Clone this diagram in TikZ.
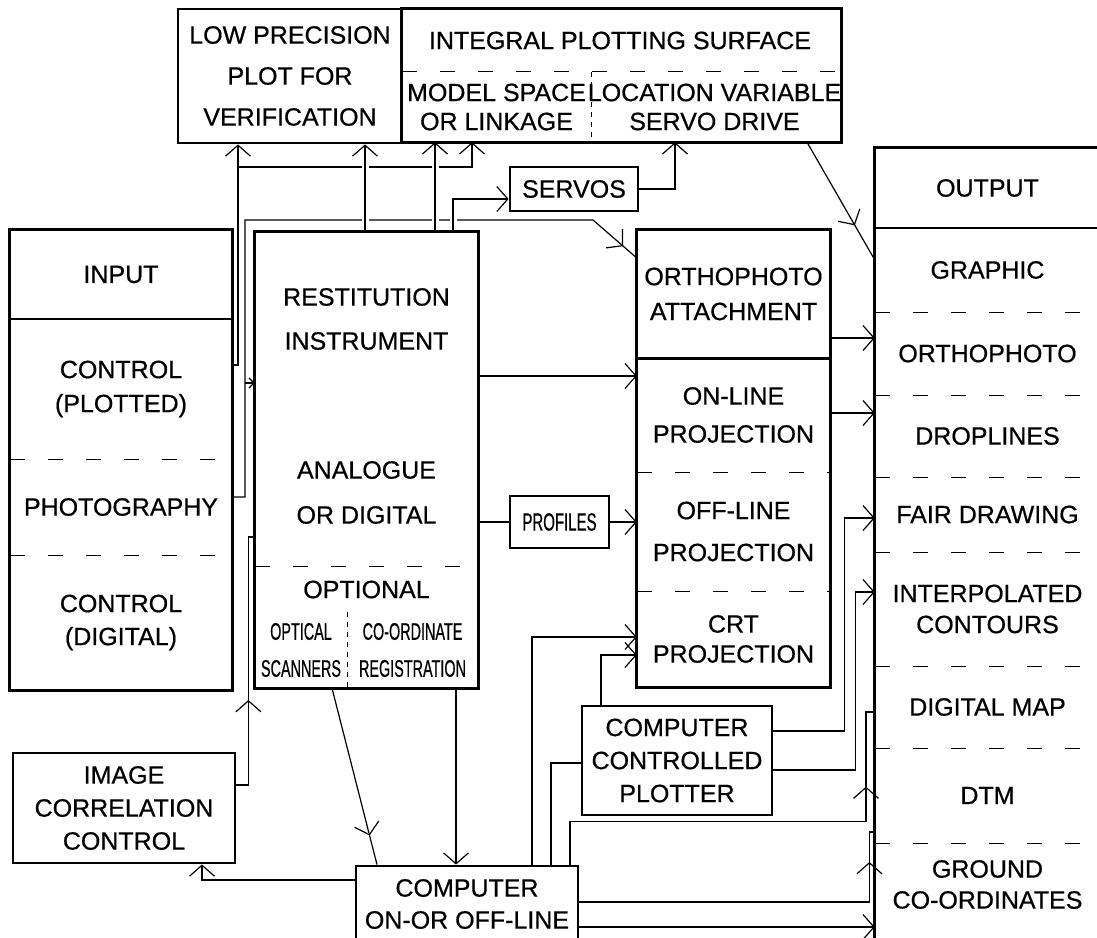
\documentclass[tikz,border=0pt]{standalone}
\usepackage{fontspec}
\setmainfont[FakeBold=0.6]{Liberation Sans}
\newfontfamily\narrowfont[FakeStretch=0.6,FakeBold=0.6]{Liberation Sans}
\usetikzlibrary{arrows.meta,decorations.markings}

\begin{document}
\begin{tikzpicture}[
  x=1pt, y=-1pt,
  >={Straight Barb[length=11pt,width=25pt]},
  conn/.style={line width=1.2pt},
  frame/.style={draw, line width=2.8pt},
  box/.style={draw, line width=2.8pt, align=center, inner sep=0pt, font=\fontsize{25}{33}\selectfont},
  sect/.style={align=center, inner sep=0pt, font=\fontsize{25}{33}\selectfont},
  sep/.style={line width=1.2pt, dash pattern=on 15pt off 23pt},
  fine/.style={line width=1.2pt, dash pattern=on 5pt off 5pt},
  midtip/.style={postaction={decorate}, decoration={markings, mark=at position #1 with {\arrow{>}}}},
  hop/.style={preaction={draw, white, line width=7pt, -, shorten <=4pt, shorten >=4pt}}
]
\useasboundingbox (0,0) rectangle (1097,937);
\clip (0,0) rectangle (1097,937);

% Plotting surfaces
\node[box, minimum width=224pt, minimum height=134pt, font=\fontsize{25}{41}\selectfont] (lowp) at (290,76) {LOW PRECISION\\PLOT FOR\\VERIFICATION};
\node[sect, minimum width=436pt, minimum height=63pt] (ips) at (620,40.5) {INTEGRAL PLOTTING SURFACE};
\node[sect, minimum width=189pt, minimum height=70pt, font=\fontsize{25}{29}\selectfont] (model) at (496.5,107) {MODEL SPACE\\OR LINKAGE};
\node[sect, minimum width=247pt, minimum height=70pt, font=\fontsize{25}{29}\selectfont] (loc) at (714.5,107) {LOCATION VARIABLE\\SERVO DRIVE};
\draw[frame] (ips.north west) rectangle (loc.south east);
\draw[sep] (model.north west) -- (loc.north east);
\draw[fine] (model.north east) -- (model.south east);

% Input
\node[sect, minimum width=222pt, minimum height=89pt] (inhd) at (121,274.5) {INPUT};
\node[sect, minimum width=222pt, minimum height=140pt, font=\fontsize{25}{34}\selectfont] (ctrlp) at (121,389) {CONTROL\\(PLOTTED)};
\node[sect, minimum width=222pt, minimum height=96pt] (photo) at (121,507) {PHOTOGRAPHY};
\node[sect, minimum width=222pt, minimum height=135pt] (ctrld) at (121,622.5) {CONTROL\\(DIGITAL)};
\draw[frame] (inhd.north west) rectangle (ctrld.south east);
\draw[line width=1.6pt] (inhd.south west) -- (inhd.south east);
\draw[sep] (ctrlp.south west) -- (ctrlp.south east);
\draw[sep] (photo.south west) -- (photo.south east);

% Restitution instrument
\node[sect, minimum width=223pt, minimum height=174pt, font=\fontsize{25}{44}\selectfont] (resti) at (366.5,319) {RESTITUTION\\INSTRUMENT};
\node[sect, minimum width=223pt, minimum height=150pt, font=\fontsize{25}{45}\selectfont] (anal) at (366.5,492.5) {ANALOGUE\\OR DIGITAL};
\node[sect, minimum width=223pt, minimum height=45pt] (opt) at (366.5,589.5) {OPTIONAL};
\node[sect, minimum width=92pt, minimum height=76pt, font=\narrowfont\fontsize{24}{37}\selectfont] (opsc) at (301,650) {OPTICAL\\SCANNERS};
\node[sect, minimum width=131pt, minimum height=76pt, font=\narrowfont\fontsize{24}{37}\selectfont] (coreg) at (412.5,650) {CO-ORDINATE\\REGISTRATION};
\draw[frame] (resti.north west) rectangle (coreg.south east);
\draw[sep] (opt.north west) -- (opt.north east);
\draw[fine] (opsc.north east) -- (opsc.south east);

% Projection units
\node[sect, minimum width=193pt, minimum height=128pt, font=\fontsize{25}{35}\selectfont] (orth) at (733.5,294) {ORTHOPHOTO\\ATTACHMENT};
\node[sect, minimum width=193pt, minimum height=114pt, font=\fontsize{25}{38}\selectfont] (onl) at (733.5,415) {ON-LINE\\PROJECTION};
\node[sect, minimum width=193pt, minimum height=119pt, font=\fontsize{25}{42}\selectfont] (offl) at (733.5,531.5) {OFF-LINE\\PROJECTION};
\node[sect, minimum width=193pt, minimum height=96pt, font=\fontsize{25}{30}\selectfont] (crt) at (733.5,639) {CRT\\PROJECTION};
\draw[frame] (orth.north west) rectangle (crt.south east);
\draw[frame] (orth.south west) -- (orth.south east);
\draw[sep] (onl.south west) -- (onl.south east);
\draw[sep] (offl.south west) -- (offl.south east);

% Output
\node[sect, minimum width=225pt, minimum height=80pt] (ohd) at (987.5,188) {OUTPUT};
\node[sect, minimum width=225pt, minimum height=84pt] (graphic) at (987.5,270) {GRAPHIC};
\node[sect, minimum width=225pt, minimum height=83pt] (oortho) at (987.5,353.5) {ORTHOPHOTO};
\node[sect, minimum width=225pt, minimum height=82pt] (drop) at (987.5,436) {DROPLINES};
\node[sect, minimum width=225pt, minimum height=75pt] (fair) at (987.5,514.5) {FAIR DRAWING};
\node[sect, minimum width=225pt, minimum height=114pt, font=\fontsize{25}{31}\selectfont] (interp) at (987.5,609) {INTERPOLATED\\CONTOURS};
\node[sect, minimum width=225pt, minimum height=82pt] (dmap) at (987.5,707) {DIGITAL MAP};
\node[sect, minimum width=225pt, minimum height=95pt] (dtm) at (987.5,795.5) {DTM};
\node[sect, minimum width=225pt, minimum height=83pt, font=\fontsize{25}{31}\selectfont] (ground) at (987.5,884.5) {GROUND\\CO-ORDINATES};
\draw[frame] (ohd.north east) -- (ohd.north west) -- (ohd.north west |- 0,950);
\draw[line width=1.6pt] (ohd.south west) -- (ohd.south east);
\foreach \s in {graphic,oortho,drop,fair,interp,dmap,dtm}
  \draw[sep] (\s.south west) -- (\s.south east);

% Single boxes
\node[box, minimum width=128pt, minimum height=44pt] (servos) at (574,189) {SERVOS};
\node[box, minimum width=99pt, minimum height=52pt, font=\narrowfont\fontsize{25}{30}\selectfont] (prof) at (559.5,522) {PROFILES};
\node[box, minimum width=222pt, minimum height=110pt] (imgc) at (124,808) {IMAGE\\CORRELATION\\CONTROL};
\node[box, minimum width=190pt, minimum height=109pt] (plot) at (677,760.5) {COMPUTER\\CONTROLLED\\PLOTTER};
\node[box, minimum width=222pt, minimum height=76pt, font=\fontsize{25}{32}\selectfont] (comp) at (467,904) {COMPUTER\\ON-OR OFF-LINE};

% Input to surfaces and restitution
\coordinate (jp) at (238,167);
\coordinate (jo) at (245,220);
\draw[conn, ->] (ctrlp.east |- 0,365) -| (lowp.south -| jp);
\draw[conn, ->] (jp) -| (model.south -| 472,0);
\draw[conn, midtip=-18pt] (photo.east |- 0,497) -| (jo) -- ++(348,0) -- (orth.west |- 0,258);
\draw[conn, -{Straight Barb[length=5pt,width=10pt]}] (jo |- 0,383) -- (resti.west |- 0,383);
\draw[conn, midtip=97pt] (imgc.east |- 0,785) -- ++(12,0) |- (anal.west |- 0,537);

% Restitution upwards
\draw[conn, ->, hop] (resti.north -| 365,0) -- (lowp.south -| 365,0);
\draw[conn, ->, hop] (resti.north -| 435,0) -- (model.south -| 435,0);
\draw[conn, ->, hop] (resti.north -| 453,0) |- (servos.west |- 0,199);
\draw[conn, ->] (servos.east) -| (loc.south -| 675,0);
\draw[conn, midtip=-40pt] (loc.south -| 807,0) -- (graphic.west |- 0,260);

% Restitution and projection to output
\draw[conn, ->] (resti.east |- 0,376) -- (onl.west |- 0,376);
\draw[conn] (anal.east |- prof.west) -- (prof.west);
\draw[conn, ->] (prof.east) -- (offl.west |- prof.east);
\draw[conn, ->] (orth.east |- 0,338) -- (oortho.west |- 0,338);
\draw[conn, ->] (onl.east |- 0,413) -- (drop.west |- 0,413);

% Plotter
\draw[conn, ->] (plot.east |- 0,731) -- ++(71,0) |- (fair.west |- 0,518);
\draw[conn, ->] (plot.east |- 0,770) -- ++(82,0) |- (interp.west |- 0,592);
\draw[conn, ->] (plot.north -| 601,0) |- (crt.west |- 0,655);

% Computer
\draw[conn, ->] (comp.north -| 532,0) |- (crt.west |- 0,637);
\draw[conn] (comp.north -| 551,0) |- (plot.west |- 0,763);
\draw[conn, midtip=374pt] (comp.north -| 570,0) |- ++(296,-43) |- (dmap.west |- 0,712);
\draw[conn, midtip=330pt] (comp.east |- 0,902) -- ++(290,0) |- (dtm.west |- 0,832);
\draw[conn, ->] (comp.east |- 0,927) -- (ground.west |- 0,927);
\draw[conn, ->] (comp.west |- 0,880) -| (imgc.south -| 202,0);
\draw[conn, midtip=-30pt] (opsc.south -| 332,0) -- (comp.north -| 377,0);
\draw[conn, ->] (coreg.south -| 456,0) -- (comp.north -| 456,0);
\end{tikzpicture}
\end{document}
